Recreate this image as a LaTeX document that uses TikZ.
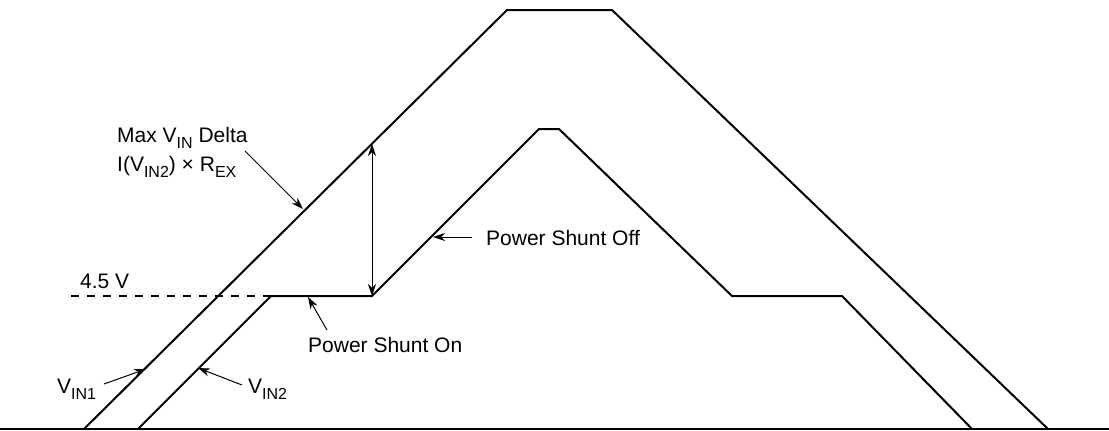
\documentclass[tikz,border=0pt]{standalone}
\usepackage{fontspec}
\setmainfont{Liberation Sans}
\usetikzlibrary{arrows.meta}
\newcommand\lowr[1]{\raisebox{-0.32em}{\fontsize{16}{16}\selectfont #1}}
\begin{document}
\begin{tikzpicture}[x=1pt,y=-1pt,
  curve/.style={line width=2pt, line join=miter},
  base/.style={line width=2.4pt},
  ptr/.style={line width=1pt, -{Stealth[length=12pt,width=8pt]}},
  dptr/.style={line width=1pt, {Stealth[length=12pt,width=8pt]}-{Stealth[length=12pt,width=8pt]}},
  lbl/.style={inner sep=0pt, anchor=base west, font=\fontsize{21}{25}\selectfont}]
\useasboundingbox (0,0) rectangle (1109,431);
% vertices
\coordinate (b0) at (0,429);
\coordinate (b1) at (1109,429);
\coordinate (a1) at (84,429);
\coordinate (a2) at (507,10);
\coordinate (a3) at (612,10);
\coordinate (a4) at (1048,429);
\coordinate (c1) at (138,429);
\coordinate (c2) at (271,296);
\coordinate (c3) at (372,296);
\coordinate (c4) at (539,129);
\coordinate (c5) at (559,129);
\coordinate (c6) at (732,296);
\coordinate (c7) at (842,296);
\coordinate (c8) at (972,429);
\coordinate (d0) at (71,296);
\coordinate (top) at (372,144);
% curves
\draw[base] (b0) -- (b1);
\draw[curve] (a1) -- (a2) -- (a3) -- (a4);
\draw[curve] (c1) -- (c2) -- (c3) -- (c4) -- (c5) -- (c6) -- (c7) -- (c8);
\draw[line width=2pt, dash pattern=on 8pt off 8pt] (d0) -- (c2);
% labels
\node[lbl] (v45) at (80,288) {4.5 V};
\node[lbl] (max) at (117,142) {Max V\lowr{IN} Delta};
\node[lbl] (irx) at (117,171) {I(V\lowr{IN2}) × R\lowr{EX}};
\node[lbl] (off) at (486,245) {Power Shunt Off};
\node[lbl] (on) at (308,352) {Power Shunt On};
\node[lbl] (vin1) at (57,393) {V\lowr{IN1}};
\node[lbl] (vin2) at (248,393) {V\lowr{IN2}};
% pointer ends
\coordinate (s1) at (245,151); \coordinate (t1) at (303,209);
\coordinate (s2) at (472,237); \coordinate (t2) at (433,237);
\coordinate (s3) at (327,330); \coordinate (t3) at (308,297);
\coordinate (s4) at (104,384); \coordinate (t4) at (146,369);
\coordinate (s5) at (242,385); \coordinate (t5) at (198,368);
\draw[ptr] (s1) -- (t1);
\draw[ptr] (s2) -- (t2);
\draw[ptr] (s3) -- (t3);
\draw[ptr] (s4) -- (t4);
\draw[ptr] (s5) -- (t5);
\draw[dptr] (top) -- (c3);
\end{tikzpicture}
\end{document}
